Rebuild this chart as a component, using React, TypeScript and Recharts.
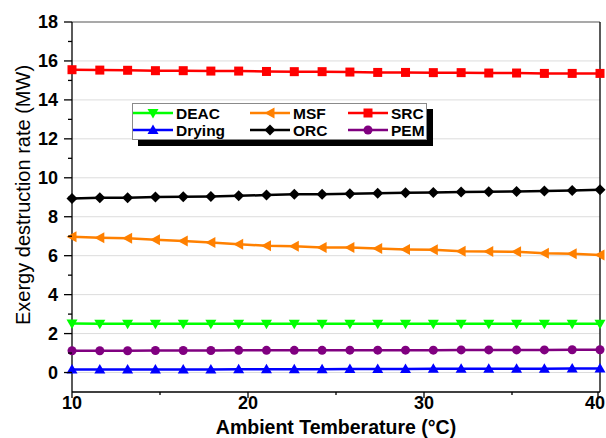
import React from 'react';
import { LineChart, Line, XAxis, YAxis, CartesianGrid, Legend, ReferenceLine } from 'recharts';

const temps = [10, 11.58, 13.16, 14.74, 16.32, 17.89, 19.47, 21.05, 22.63, 24.21, 25.79, 27.37, 28.95, 30.53, 32.11, 33.68, 35.26, 36.84, 38.42, 40];
const deac = [2.52, 2.51, 2.51, 2.51, 2.5, 2.5, 2.5, 2.5, 2.5, 2.5, 2.5, 2.5, 2.5, 2.5, 2.5, 2.5, 2.5, 2.5, 2.5, 2.5];
const msf = [6.97, 6.92, 6.89, 6.82, 6.75, 6.68, 6.59, 6.51, 6.49, 6.42, 6.42, 6.37, 6.32, 6.3, 6.23, 6.22, 6.2, 6.12, 6.1, 6.03];
const src = [15.55, 15.53, 15.52, 15.5, 15.5, 15.48, 15.48, 15.46, 15.45, 15.45, 15.43, 15.41, 15.41, 15.4, 15.4, 15.38, 15.38, 15.36, 15.36, 15.36];
const drying = [0.15, 0.15, 0.15, 0.16, 0.16, 0.16, 0.17, 0.17, 0.17, 0.17, 0.18, 0.18, 0.18, 0.19, 0.19, 0.19, 0.2, 0.2, 0.21, 0.21];
const orc = [8.94, 8.98, 8.98, 9.01, 9.03, 9.04, 9.08, 9.11, 9.15, 9.16, 9.18, 9.2, 9.23, 9.25, 9.27, 9.28, 9.3, 9.32, 9.35, 9.38];
const pem = [1.12, 1.12, 1.12, 1.13, 1.13, 1.13, 1.14, 1.14, 1.14, 1.14, 1.15, 1.15, 1.15, 1.15, 1.16, 1.16, 1.16, 1.16, 1.17, 1.17];

const xTicks = [10, 15, 20, 25, 30, 35, 40];
const yTicks = [0, 1, 2, 3, 4, 5, 6, 7, 8, 9, 10, 11, 12, 13, 14, 15, 16, 17, 18];
const gridValues = [0, 2, 4, 6, 8, 10, 12, 14, 16];

const data = temps.map((t, i) => ({
  t,
  deac: deac[i],
  msf: msf[i],
  src: src[i],
  drying: drying[i],
  orc: orc[i],
  pem: pem[i],
}));

const series = [
  { key: 'deac', name: 'DEAC', color: '#00ff00', shape: 'down' },
  { key: 'msf', name: 'MSF', color: '#ff8000', shape: 'left' },
  { key: 'src', name: 'SRC', color: '#ff0000', shape: 'square' },
  { key: 'drying', name: 'Drying', color: '#0000ff', shape: 'up' },
  { key: 'orc', name: 'ORC', color: '#000000', shape: 'diamond' },
  { key: 'pem', name: 'PEM', color: '#800080', shape: 'circle' },
];

const FONT = 'Liberation Sans, Arial, sans-serif';

function Marker({ cx, cy, shape, color }: { cx: number; cy: number; shape: string; color: string }) {
  if (cx == null || cy == null) return null;
  switch (shape) {
    case 'square':
      return <rect x={cx - 4.5} y={cy - 4.5} width={9} height={9} fill={color} />;
    case 'diamond':
      return <polygon points={`${cx},${cy - 5.5} ${cx + 5.5},${cy} ${cx},${cy + 5.5} ${cx - 5.5},${cy}`} fill={color} />;
    case 'down':
      return <polygon points={`${cx - 5.5},${cy - 4} ${cx + 5.5},${cy - 4} ${cx},${cy + 5.5}`} fill={color} />;
    case 'up':
      return <polygon points={`${cx - 5.5},${cy + 4} ${cx + 5.5},${cy + 4} ${cx},${cy - 5.5}`} fill={color} />;
    case 'left':
      return <polygon points={`${cx - 5.5},${cy} ${cx + 4.5},${cy - 5.5} ${cx + 4.5},${cy + 5.5}`} fill={color} />;
    default:
      return <circle cx={cx} cy={cy} r={4.5} fill={color} />;
  }
}

const makeDot = (shape: string, color: string) => (props: any) => (
  <Marker key={props.index} cx={props.cx} cy={props.cy} shape={shape} color={color} />
);

function LeftTick({ x, y, payload }: any) {
  const major = payload.value % 2 === 0;
  return (
    <g>
      <line x1={x} y1={y} x2={x - (major ? 8 : 4)} y2={y} stroke="#000" strokeWidth={1.3} />
      {major && (
        <text x={x - 14} y={y} dy={6} textAnchor="end" fontSize={18} fontWeight="bold" fontFamily={FONT} fill="#000">
          {payload.value}
        </text>
      )}
    </g>
  );
}

function RightTick({ x, y, payload }: any) {
  const major = payload.value % 2 === 0;
  return <line x1={x} y1={y} x2={x - (major ? 6 : 4)} y2={y} stroke="#000" strokeWidth={1.3} />;
}

function BottomTick({ x, y, payload }: any) {
  const major = payload.value % 10 === 0;
  // the last label sits at the page edge, so it is anchored at its end
  const last = payload.value === 40;
  return (
    <g>
      <line x1={x} y1={y} x2={x} y2={y + (major ? 6 : 3)} stroke="#000" strokeWidth={1.3} />
      {major && (
        <text
          x={last ? 605 : x}
          y={y + 17}
          textAnchor={last ? 'end' : 'middle'}
          fontSize={18}
          fontWeight="bold"
          fontFamily={FONT}
          fill="#000"
        >
          {payload.value}
        </text>
      )}
    </g>
  );
}

function LegendBox() {
  return (
    <div
      style={{
        width: 293,
        height: 35,
        border: '1px solid #8a8a8a',
        background: '#fff',
        boxShadow: '6px 6px 0 #000',
        display: 'grid',
        gridTemplateColumns: '117px 98px 78px',
        gridTemplateRows: '17px 17px',
        alignContent: 'center',
        fontFamily: FONT,
        fontWeight: 'bold',
        fontSize: 15.5,
        color: '#000',
      }}
    >
      {series.map((s) => (
        <div key={s.key} style={{ display: 'flex', alignItems: 'center', lineHeight: '17px' }}>
          <svg width={40} height={14} style={{ flex: 'none' }}>
            <line x1={0} y1={7} x2={40} y2={7} stroke={s.color} strokeWidth={2.5} />
            <Marker cx={20} cy={7} shape={s.shape} color={s.color} />
          </svg>
          <span style={{ marginLeft: 3 }}>{s.name}</span>
        </div>
      ))}
    </div>
  );
}

export default function App() {
  return (
    <div style={{ position: 'absolute', left: 0, top: 0, background: '#fff' }}>
      <LineChart width={606} height={438} data={data} margin={{ top: 22, right: 5, bottom: 0, left: 0 }}>
        <CartesianGrid horizontal vertical={false} horizontalValues={gridValues} stroke="#dcdcdc" strokeWidth={1} />
        <XAxis
          dataKey="t"
          type="number"
          domain={[10, 40]}
          ticks={xTicks}
          tick={<BottomTick />}
          tickLine={false}
          tickSize={0}
          tickMargin={0}
          height={46}
          stroke="#000"
          strokeWidth={1.3}
          label={{
            content: () => (
              <text x={336} y={434} textAnchor="middle" fontSize={19.5} fontWeight="bold" fontFamily={FONT} fill="#000">
                Ambient Temberature (°C)
              </text>
            ),
          }}
        />
        <YAxis
          type="number"
          domain={[-1, 18]}
          ticks={yTicks}
          tick={<LeftTick />}
          tickLine={false}
          tickSize={0}
          tickMargin={0}
          width={72}
          interval={0}
          stroke="#000"
          strokeWidth={1.3}
          label={{
            content: () => (
              <text x={30} y={195} transform="rotate(-90 30 195)" textAnchor="middle" fontSize={20} fontFamily={FONT} fill="#000">
                Exergy destruction rate (MW)
              </text>
            ),
          }}
        />
        <YAxis
          yAxisId="r"
          orientation="right"
          type="number"
          domain={[-1, 18]}
          ticks={yTicks}
          tick={<RightTick />}
          tickLine={false}
          tickSize={0}
          tickMargin={0}
          width={1}
          interval={0}
          stroke="#000"
          strokeWidth={1.3}
        />
        <ReferenceLine y={18} stroke="#555" strokeWidth={1.2} />
        {series.map((s) => (
          <Line
            key={s.key}
            dataKey={s.key}
            name={s.name}
            stroke={s.color}
            strokeWidth={2.5}
            dot={makeDot(s.shape, s.color)}
            activeDot={false}
            isAnimationActive={false}
          />
        ))}
        <Legend
          layout="horizontal"
          verticalAlign="middle"
          align="center"
          content={() => <LegendBox />}
          wrapperStyle={{ left: 132, top: 103, width: 'auto' }}
        />
      </LineChart>
    </div>
  );
}
